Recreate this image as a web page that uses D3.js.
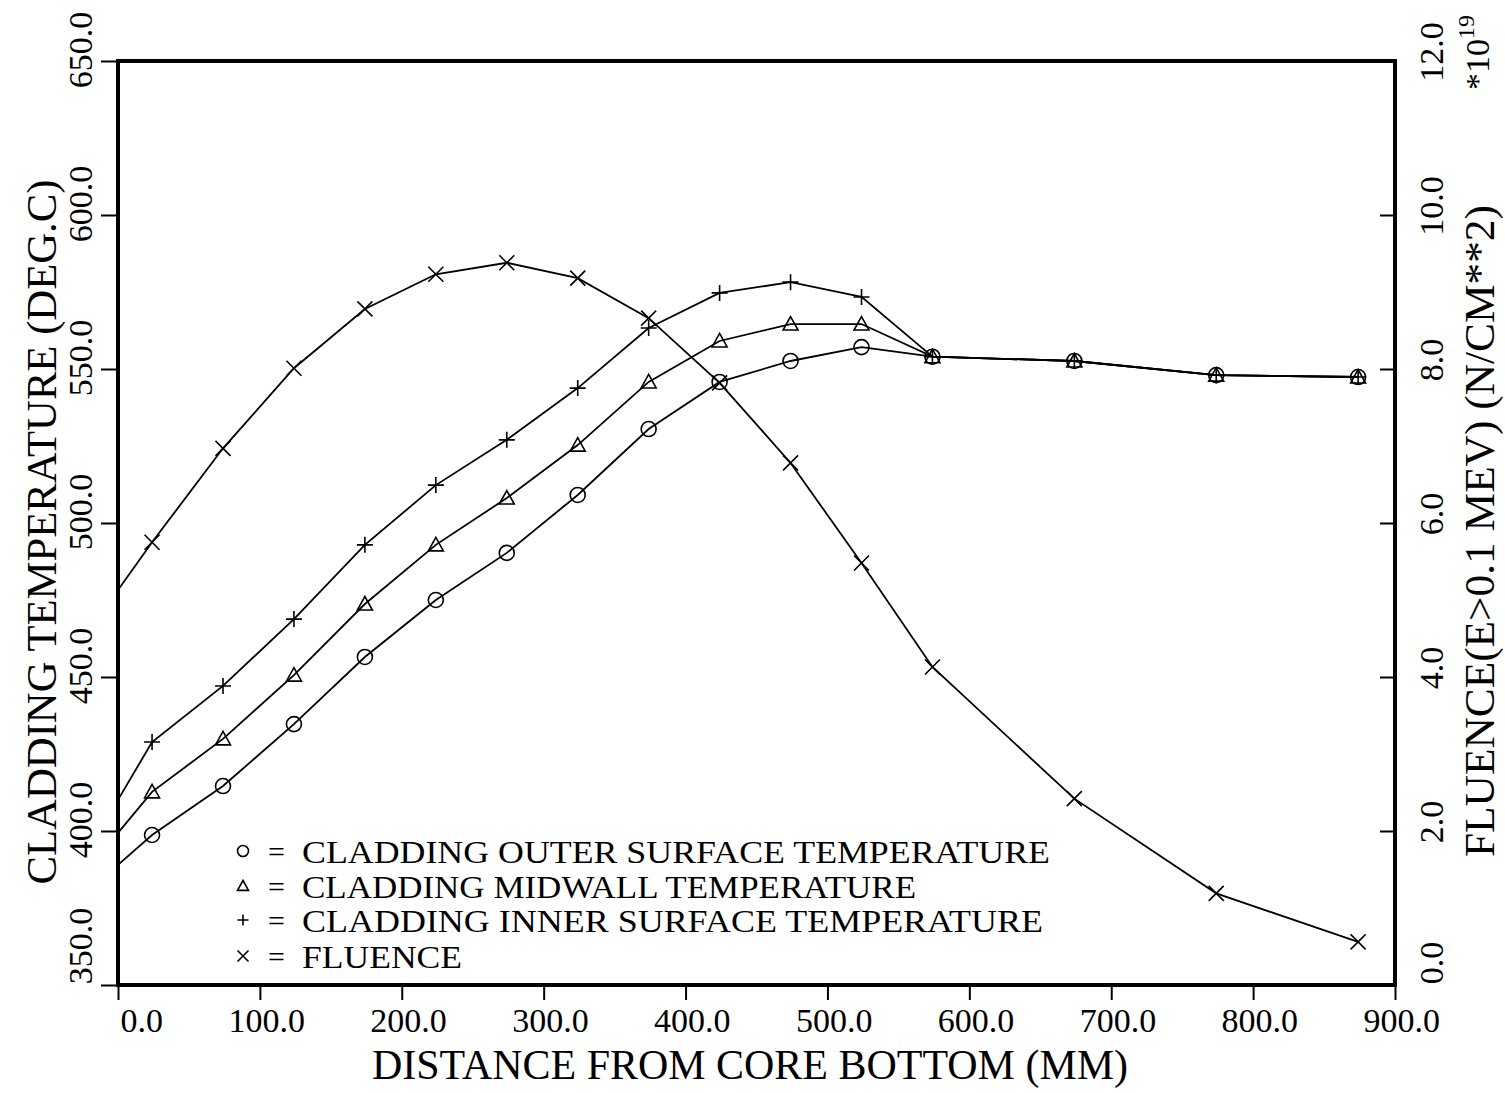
<!DOCTYPE html>
<html>
<head>
<meta charset="utf-8">
<script src="https://cdn.jsdelivr.net/npm/d3@7"></script>
<style>
  body { margin: 0; background: #fff; }
  text { font-family: "Liberation Serif", "DejaVu Serif", serif; fill: #000; }
</style>
</head>
<body>
<script>

var width = 1505,
    height = 1093;

// distance from core bottom (mm)
var distance = [0, 24, 74, 124, 174, 224, 274, 324, 374, 424, 474, 524, 574, 674, 774, 874];

// cladding temperatures (deg C)
var outerTemp = [389.0, 398.7, 414.6, 434.7, 456.5, 475.0, 490.3, 509.1, 530.5, 545.8, 552.6, 557.1, 554.0, 552.6, 548.0, 547.4];
var midTemp   = [399.4, 412.7, 429.9, 450.6, 473.7, 492.9, 508.1, 525.3, 545.8, 559.1, 564.6, 564.6, 554.0, 552.6, 548.0, 547.4];
var innerTemp = [410.1, 428.9, 447.1, 468.8, 492.9, 512.3, 527.0, 543.8, 563.3, 574.7, 578.2, 573.4, 554.0, 552.6, 548.0, 547.4];

// fluence (x 1e19 n/cm2)
var fluence = [5.13, 5.75, 6.97, 8.01, 8.78, 9.23, 9.38, 9.18, 8.66, 7.82, 6.78, 5.48, 4.13, 2.42, 1.19, 0.56];

var xTicks = [0, 100, 200, 300, 400, 500, 600, 700, 800, 900];
var tempTicks = [350, 400, 450, 500, 550, 600, 650];
var fluTicks = [0, 2, 4, 6, 8, 10, 12];

var legendLabels = [
    'CLADDING OUTER SURFACE TEMPERATURE',
    'CLADDING MIDWALL TEMPERATURE',
    'CLADDING INNER SURFACE TEMPERATURE',
    'FLUENCE'
];
var legendWidths = [748, 614, 741, 160];

var svg = d3.select('body')
    .append('svg')
    .attr('width', width)
    .attr('height', height);

var x = d3.scaleLinear().domain([0, 900]).range([118, 1395]);
var yL = d3.scaleLinear().domain([350, 650]).range([985, 61]);
var yR = d3.scaleLinear().domain([0, 12]).range([985, 61]);

// axes (ticks only, frame drawn separately)
var axL = svg.append('g')
    .attr('transform', 'translate(' + x(0) + ',0)')
    .call(d3.axisLeft(yL).tickValues(tempTicks).tickSize(17).tickSizeOuter(0).tickFormat(''));
var axR = svg.append('g')
    .attr('transform', 'translate(' + x(900) + ',0)')
    .call(d3.axisLeft(yR).tickValues(fluTicks).tickSize(15).tickSizeOuter(0).tickFormat(''));
var axB = svg.append('g')
    .attr('transform', 'translate(0,' + yL(350) + ')')
    .call(d3.axisBottom(x).tickValues(xTicks).tickSize(15).tickSizeOuter(0).tickFormat(''));

[axL, axR, axB].forEach(function(g) {
    g.select('.domain').remove();
    g.selectAll('line').attr('stroke', '#000').attr('stroke-width', 2);
});

// frame
svg.append('rect')
    .attr('x', x(0))
    .attr('y', yL(650))
    .attr('width', x(900) - x(0))
    .attr('height', yL(350) - yL(650))
    .attr('fill', 'none')
    .attr('stroke', '#000')
    .attr('stroke-width', 4);

// tick labels
svg.selectAll('text.xtick')
    .data(xTicks)
    .enter()
    .append('text')
    .classed('xtick', true)
    .attr('x', function(d) { return x(d) + 45; })
    .attr('y', 1032)
    .attr('text-anchor', 'end')
    .style('font-size', '34px')
    .text(function(d) { return d.toFixed(1); });

svg.selectAll('text.ltick')
    .data(tempTicks)
    .enter()
    .append('text')
    .classed('ltick', true)
    .attr('transform', function(d) {
        var cy = d === 350 ? 946 : yL(d) - 11;
        return 'translate(92,' + cy + ') rotate(-90)';
    })
    .attr('text-anchor', 'middle')
    .style('font-size', '34px')
    .text(function(d) { return d.toFixed(1); });

svg.selectAll('text.rtick')
    .data(fluTicks)
    .enter()
    .append('text')
    .classed('rtick', true)
    .attr('transform', function(d) {
        var cy = d === 0 ? 963 : yR(d) - 9;
        return 'translate(1443,' + cy + ') rotate(-90)';
    })
    .attr('text-anchor', 'middle')
    .style('font-size', '34px')
    .text(function(d) { return d.toFixed(1); });

// exponent
var expo = svg.append('text')
    .attr('transform', 'translate(1489,90) rotate(-90)')
    .style('font-size', '34px');
expo.append('tspan').text('*10');
expo.append('tspan').attr('dy', -15).style('font-size', '24px').text('19');

// axis titles
svg.append('text')
    .attr('x', 750)
    .attr('y', 1079)
    .attr('text-anchor', 'middle')
    .attr('textLength', 756)
    .attr('lengthAdjust', 'spacingAndGlyphs')
    .style('font-size', '42px')
    .text('DISTANCE FROM CORE BOTTOM (MM)');

svg.append('text')
    .attr('transform', 'translate(56,532) rotate(-90)')
    .attr('text-anchor', 'middle')
    .attr('textLength', 705)
    .attr('lengthAdjust', 'spacingAndGlyphs')
    .style('font-size', '42px')
    .text('CLADDING TEMPERATURE (DEG.C)');

svg.append('text')
    .attr('transform', 'translate(1494,531) rotate(-90)')
    .attr('text-anchor', 'middle')
    .attr('textLength', 652)
    .attr('lengthAdjust', 'spacingAndGlyphs')
    .style('font-size', '42px')
    .text('FLUENCE(E>0.1 MEV) (N/CM**2)');

// markers
var drawMarker = function(g, kind, cx, cy, s) {
    if (kind === 'circle') {
        g.append('circle').attr('cx', cx).attr('cy', cy).attr('r', s)
            .attr('fill', 'none').attr('stroke', '#000').attr('stroke-width', 1.6);
    } else if (kind === 'triangle') {
        g.append('path')
            .attr('d', 'M' + cx + ',' + (cy - s) + 'L' + (cx + s) + ',' + (cy + s * 0.8) +
                'L' + (cx - s) + ',' + (cy + s * 0.8) + 'Z')
            .attr('fill', 'none').attr('stroke', '#000').attr('stroke-width', 1.6);
    } else if (kind === 'plus') {
        g.append('path')
            .attr('d', 'M' + (cx - s) + ',' + cy + 'H' + (cx + s) + 'M' + cx + ',' + (cy - s) + 'V' + (cy + s))
            .attr('stroke', '#000').attr('stroke-width', 1.6);
    } else {
        g.append('path')
            .attr('d', 'M' + (cx - s) + ',' + (cy - s) + 'L' + (cx + s) + ',' + (cy + s) +
                'M' + (cx - s) + ',' + (cy + s) + 'L' + (cx + s) + ',' + (cy - s))
            .attr('stroke', '#000').attr('stroke-width', 1.6);
    }
};

var series = [
    { name: 'outer', vals: outerTemp, y: yL, marker: 'circle', size: 7.5 },
    { name: 'mid', vals: midTemp, y: yL, marker: 'triangle', size: 7.5 },
    { name: 'inner', vals: innerTemp, y: yL, marker: 'plus', size: 8 },
    { name: 'flu', vals: fluence, y: yR, marker: 'cross', size: 7.5 }
];

series.forEach(function(s) {
    var pts = distance.map(function(d, i) { return [d, s.vals[i]]; });
    var line = d3.line()
        .x(function(p) { return x(p[0]); })
        .y(function(p) { return s.y(p[1]); });
    svg.append('path')
        .datum(pts)
        .attr('d', line)
        .attr('fill', 'none')
        .attr('stroke', '#000')
        .attr('stroke-width', 1.8);
    var g = svg.append('g').classed(s.name, true);
    pts.forEach(function(p) {
        if (p[0] > 0) drawMarker(g, s.marker, x(p[0]), s.y(p[1]), s.size);
    });
});

// legend
var legendY = [851, 886, 920, 956];
var lg = svg.append('g');
series.forEach(function(s, i) {
    drawMarker(lg, s.marker, 243, legendY[i], 5.5);
    lg.append('text')
        .attr('x', 268)
        .attr('y', legendY[i] + 11)
        .style('font-size', '30px')
        .text('=');
    lg.append('text')
        .attr('x', 302)
        .attr('y', legendY[i] + 12)
        .attr('textLength', legendWidths[i])
        .attr('lengthAdjust', 'spacingAndGlyphs')
        .style('font-size', '31px')
        .text(legendLabels[i]);
});

</script>
</body>
</html>
